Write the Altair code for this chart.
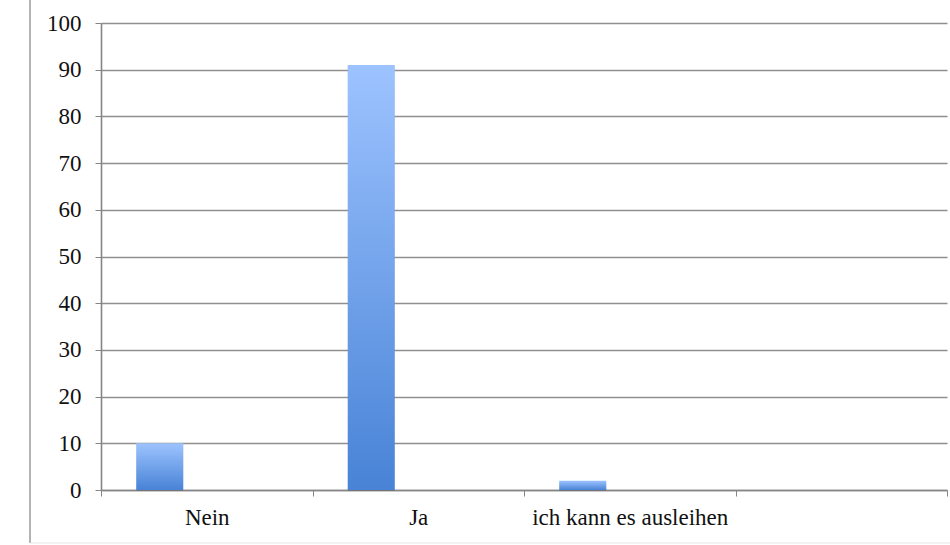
import altair as alt
import pandas as pd

# Survey answers and counts
categories = ["Nein", "Ja", "ich kann es ausleihen"]
values = [10, 91, 2]
# Fourth, unused slot on the category axis
empty_slot = " "
series_names = ["Reihe 1", "Reihe 2", "Reihe 3"]
y_ticks = list(range(0, 101, 10))

df = pd.DataFrame({
    "Antwort": categories,
    "Anzahl": values,
    "Reihe": [series_names[0]] * len(categories),
})

FONT = "Liberation Serif"
FS = 23
W, H = 846, 467

gradient = alt.Gradient(
    gradient="linear",
    x1=0, y1=0, x2=0, y2=1,
    stops=[
        alt.GradientStop(color="#9dc3ff", offset=0),
        alt.GradientStop(color="#4883d6", offset=1),
    ],
)

x_enc = alt.X(
    "Antwort:N",
    sort=None,
    scale=alt.Scale(domain=categories + [empty_slot], paddingInner=0, paddingOuter=0),
    axis=alt.Axis(
        title=None,
        labelAngle=0,
        labelLimit=400,
        tickBand="extent",
        tickSize=6,
        tickColor="#858585",
        domainColor="#858585",
        domainWidth=1.6,
        labelPadding=10,
        labelFontSize=FS,
        labelFont=FONT,
        labelColor="#111111",
        grid=False,
    ),
)

x_off = alt.XOffset(
    "Reihe:N",
    scale=alt.Scale(domain=series_names, paddingInner=0, paddingOuter=0.75),
)

y_enc = alt.Y(
    "Anzahl:Q",
    scale=alt.Scale(domain=[0, 100], nice=False),
    axis=alt.Axis(
        title=None,
        values=y_ticks,
        tickSize=6,
        tickColor="#858585",
        domainColor="#858585",
        domainWidth=1.6,
        gridColor="#8f8f8f",
        gridWidth=1.3,
        labelPadding=14,
        labelFontSize=FS,
        labelFont=FONT,
        labelColor="#111111",
    ),
)

shadow = alt.Chart(df).mark_bar(
    color="#000000", opacity=0.12, xOffset=2, yOffset=1
).encode(x=x_enc, xOffset=x_off, y=y_enc)

bars = alt.Chart(df).mark_bar(color=gradient).encode(
    x=x_enc, xOffset=x_off, y=y_enc
)

frame_data = alt.Data(values=[{"k": 1}])
frame_left = alt.Chart(frame_data).mark_rule(color="#9a9a9a", strokeWidth=1.5).encode(
    x=alt.value(-71), y=alt.value(-23), y2=alt.value(H + 53)
)
frame_bottom = alt.Chart(frame_data).mark_rule(color="#e6e6e6", strokeWidth=1).encode(
    x=alt.value(-71), x2=alt.value(W + 10), y=alt.value(H + 53)
)

chart = alt.layer(shadow, bars, frame_left, frame_bottom).properties(
    width=W,
    height=H,
    padding={"left": 101, "top": 23, "right": 3, "bottom": 55},
    autosize=alt.AutoSizeParams(type="none"),
    background="white",
).configure_view(stroke=None)

chart.save("out.html", embed_options={"renderer": "svg", "actions": False})
